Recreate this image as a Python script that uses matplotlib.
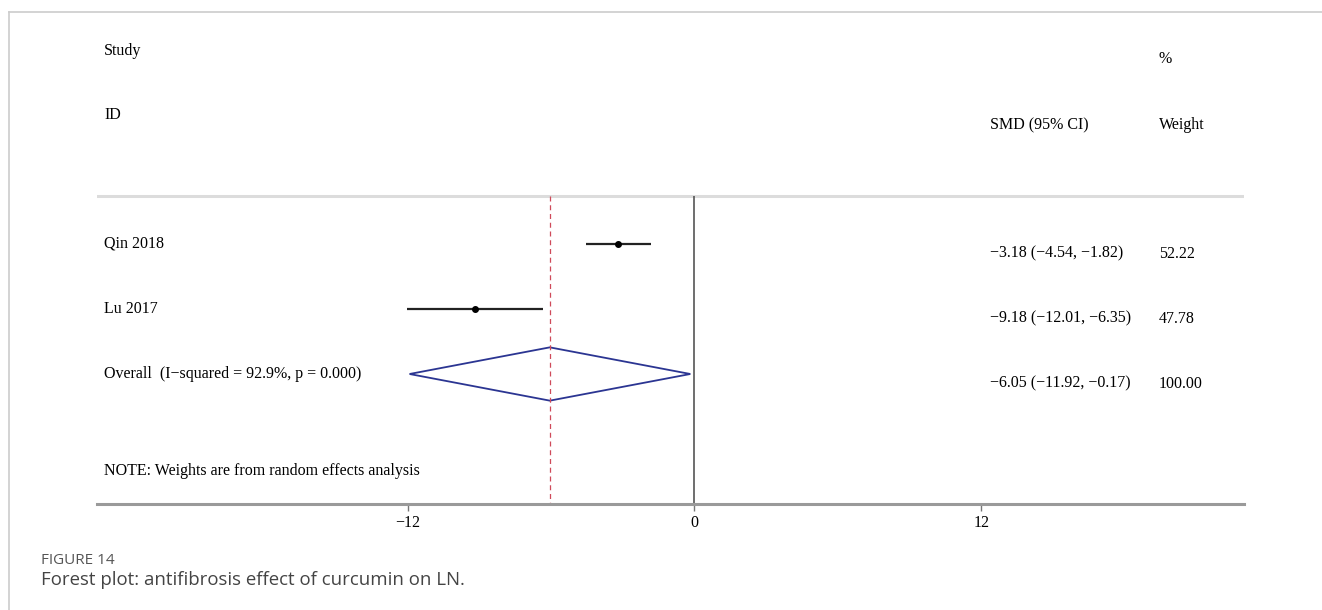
import matplotlib
matplotlib.use("Agg")
import matplotlib.pyplot as plt
from matplotlib.patches import Polygon
from matplotlib.lines import Line2D

studies = ["Qin 2018", "Lu 2017"]
smd = [-3.18, -9.18]
ci_low = [-4.54, -12.01]
ci_high = [-1.82, -6.35]
weights = [52.22, 47.78]

overall_label = "Overall  (I\u2212squared = 92.9%, p = 0.000)"
overall_smd = -6.05
overall_low = -11.92
overall_high = -0.17
overall_weight = 100.00

xticks = [-12, 0, 12]

SERIF = "Liberation Serif"
FS = 11.5

W, H = 1322, 610
fig = plt.figure(figsize=(W / 100, H / 100), dpi=100)

# plot region: x-axis line runs px 97..1244, axis baseline at px 504
ax = fig.add_axes([97 / W, (H - 504) / H, (1244 - 97) / W, (504 - 30) / H])
row_px = 65.0
ax.set_xlim(-25.0, 23.0)
ax.set_ylim(5.0, 5.0 - (504 - 30) / row_px)

for s in ["top", "left", "right"]:
    ax.spines[s].set_visible(False)
ax.spines["bottom"].set_color("#9a9a9a")
ax.spines["bottom"].set_linewidth(2.2)
ax.set_yticks([])
ax.set_xticks(xticks)
ax.set_xticklabels([f"{t}".replace("-", "\u2212") for t in xticks],
                   fontfamily=SERIF, fontsize=FS)
ax.tick_params(axis="x", direction="out", length=5, width=1, color="#777777", pad=3)

line_top = 0.26
ax.axhline(line_top, color="#dcdcdc", lw=2.2)
ax.vlines(0, line_top, 5.0, color="#555555", lw=1.2)
ax.vlines(overall_smd, line_top, 5.0, color="#cf4a5a", lw=0.9,
          linestyles=(0, (4, 3)))

xl = -24.7       # label column
xs = 12.36       # SMD (95% CI) column
xw = 19.43       # weight column
off = 0.15       # right-hand columns sit slightly lower

ax.text(xl, -1.97, "Study", fontfamily=SERIF, fontsize=FS, va="center")
ax.text(xl, -0.98, "ID", fontfamily=SERIF, fontsize=FS, va="center")
ax.text(xw, -1.84, "%", fontfamily=SERIF, fontsize=FS, va="center")
ax.text(xs, -0.83, "SMD (95% CI)", fontfamily=SERIF, fontsize=FS, va="center")
ax.text(xw, -0.83, "Weight", fontfamily=SERIF, fontsize=FS, va="center")

def fmt(v):
    return f"{v:.2f}".replace("-", "\u2212")

for i, name in enumerate(studies):
    y = i + 1
    ax.plot([ci_low[i], ci_high[i]], [y, y], color="#222222", lw=1.6,
            solid_capstyle="butt")
    ax.plot(smd[i], y, "o", color="black", ms=4)
    ax.text(xl, y, name, fontfamily=SERIF, fontsize=FS, va="center")
    ax.text(xs, y + off, f"{fmt(smd[i])} ({fmt(ci_low[i])}, {fmt(ci_high[i])})",
            fontfamily=SERIF, fontsize=FS, va="center")
    ax.text(xw, y + off, f"{weights[i]:.2f}", fontfamily=SERIF, fontsize=FS,
            va="center")

yo = len(studies) + 1
hh = 0.41
diamond = Polygon([[overall_low, yo], [overall_smd, yo - hh],
                   [overall_high, yo], [overall_smd, yo + hh]],
                  closed=True, fill=False, edgecolor="#2b3592", lw=1.3)
ax.add_patch(diamond)
ax.text(xl, yo, overall_label, fontfamily=SERIF, fontsize=FS, va="center")
ax.text(xs, yo + off,
        f"{fmt(overall_smd)} ({fmt(overall_low)}, {fmt(overall_high)})",
        fontfamily=SERIF, fontsize=FS, va="center")
ax.text(xw, yo + off, f"{overall_weight:.2f}", fontfamily=SERIF, fontsize=FS,
        va="center")

ax.text(xl, 4.49, "NOTE: Weights are from random effects analysis",
        fontfamily=SERIF, fontsize=FS, va="center")

# card frame
fig.add_artist(Line2D([9 / W, 1], [1 - 12 / H, 1 - 12 / H], color="#cccccc", lw=1.2))
fig.add_artist(Line2D([9 / W, 9 / W], [0, 1 - 12 / H], color="#cccccc", lw=1.2))

# caption
fig.text(41 / W, 1 - 561 / H, "FIGURE 14", fontfamily="Open Sans", fontsize=11,
         fontweight="medium", color="#555555", va="center")
fig.text(41 / W, 1 - 580 / H, "Forest plot: antifibrosis effect of curcumin on LN.",
         fontfamily="Open Sans", fontsize=13.4, color="#444444", va="center")

fig.savefig("out.png", dpi=100)
